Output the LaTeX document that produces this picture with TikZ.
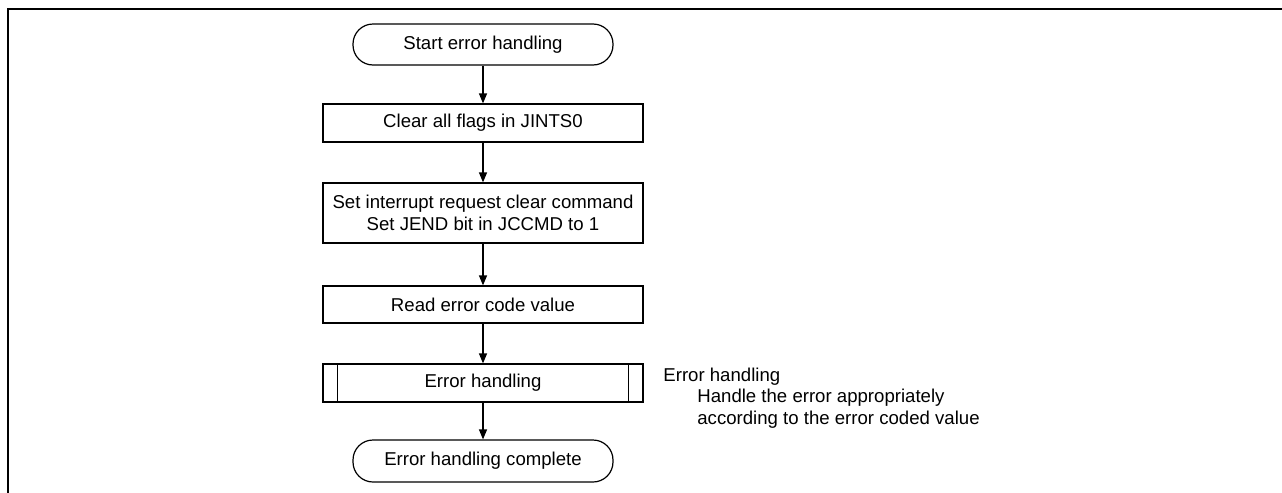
\documentclass[tikz,border=0pt]{standalone}
\usepackage{fontspec}
\setmainfont{Liberation Sans}
\usetikzlibrary{arrows.meta}
\newcommand{\fs}{\fontsize{9.3}{11}\selectfont}

\begin{document}
\begin{tikzpicture}[x=0.5pt,y=-0.5pt,>={Triangle[length=5pt,width=4pt]},
        term/.style={draw,line width=0.6pt,rounded corners=10pt,minimum width=130pt,minimum height=20.5pt,inner sep=0pt,font=\fs},
        proc/.style={draw,line width=0.6pt,minimum width=160pt,minimum height=19pt,inner sep=0pt,align=center,font=\fs},
        flow/.style={line width=0.6pt,->},
        note/.style={anchor=base west,inner sep=0pt,font=\fs}]
       \useasboundingbox (0,0) rectangle (1282,493);
       \draw[line width=1.3pt] (1282,9) -- (8,9) -- (8,493);
       \node[term] (start) at (483,44.5) {Start error handling};
       \node[proc] (clrflags) at (483,123) {Clear all flags in JINTS0};
       \node[proc,minimum height=30pt] (setcmd) at (483,213) {Set interrupt request clear command\\Set JEND bit in JCCMD to 1};
       \node[proc,minimum height=18.5pt] (readcode) at (483,304.5) {Read error code value};
       \node[proc] (errhandle) at (483,383) {Error handling};
       \draw[line width=0.6pt] ([xshift=7.5pt]errhandle.north west) -- ([xshift=7.5pt]errhandle.south west);
       \draw[line width=0.6pt] ([xshift=-7.5pt]errhandle.north east) -- ([xshift=-7.5pt]errhandle.south east);
       \node[term,minimum height=21pt] (done) at (483,461) {Error handling complete};
       \draw[flow] (start) -- (clrflags);
       \draw[flow] (clrflags) -- (setcmd);
       \draw[flow] (setcmd) -- (readcode);
       \draw[flow] (readcode) -- (errhandle);
       \draw[flow] (errhandle) -- (done);
       \node[note] (notetitle) at (663,381) {Error handling};
       \node[note] (noteline1) at (697,402.5) {Handle the error appropriately};
       \node[note] (noteline2) at (697,424) {according to the error coded value};
\end{tikzpicture}
\end{document}
